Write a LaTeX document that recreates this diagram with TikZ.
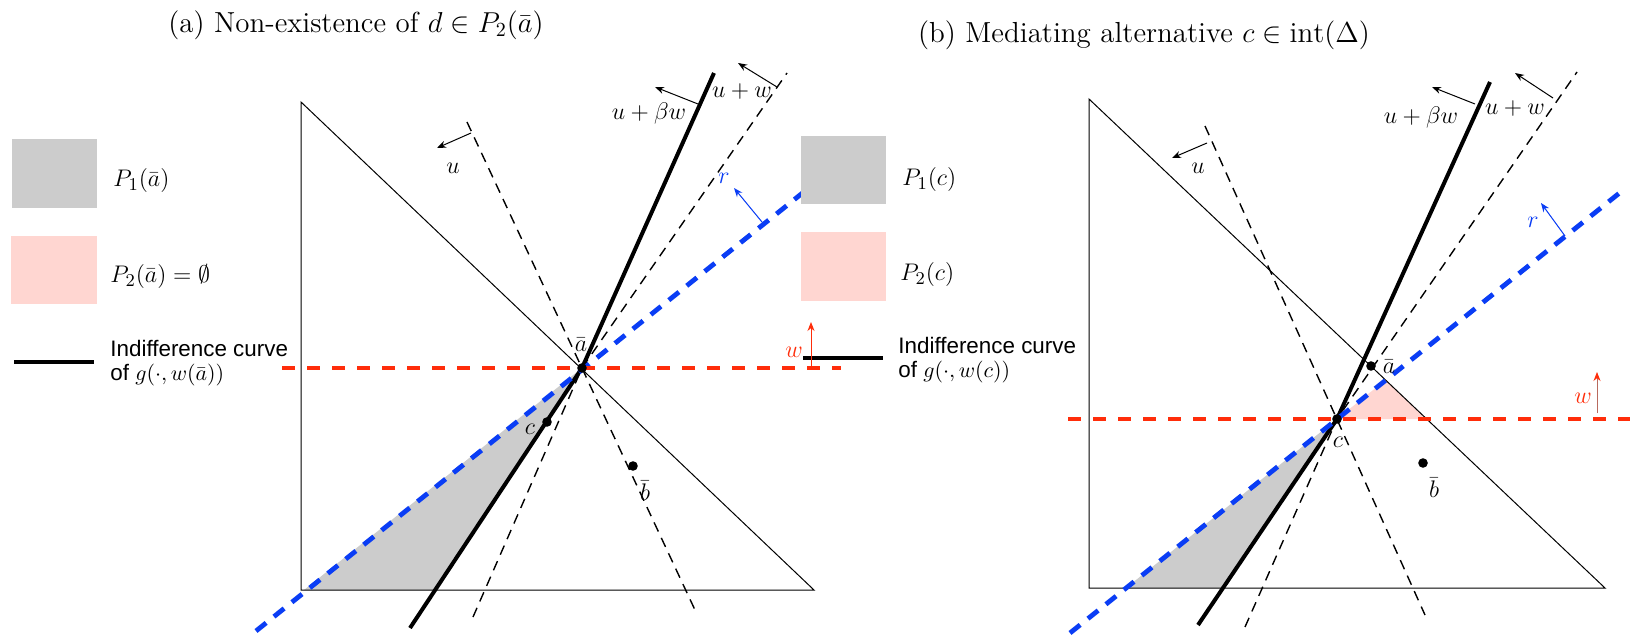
\documentclass[tikz,border=0pt]{standalone}
\usepackage{fontspec}
\newfontfamily\legendfont{Liberation Sans}
\usetikzlibrary{arrows.meta}
\definecolor{greyfill}{HTML}{CCCCCC}
\definecolor{pinkfill}{HTML}{FFD6D1}
\definecolor{rblue}{HTML}{0A3DF5}
\definecolor{rred}{HTML}{FF2D0A}
\definecolor{rbrown}{HTML}{B86A5E}
\tikzset{
  tri/.style={draw=black, line width=0.5pt},
  icurve/.style={draw=black, line width=2pt, line join=miter},
  dline/.style={draw=black, line width=0.7pt, dash pattern=on 5pt off 3.5pt},
  bluedash/.style={draw=rblue, line width=2.4pt, dash pattern=on 6.5pt off 5pt},
  reddash/.style={draw=rred, line width=2pt, dash pattern=on 6.5pt off 6pt},
  dirarrow/.style={-{Stealth[length=4.5pt,width=3.5pt]}, line width=0.5pt},
  lbl/.style={font=\fontsize{12.5}{14}\selectfont, inner sep=0pt},
  legtext/.style={font=\legendfont\fontsize{11.2}{13}\selectfont, anchor=west, inner sep=0pt},
  legmath/.style={font=\fontsize{13}{15}\selectfont, anchor=west, inner sep=0pt},
  ttl/.style={font=\fontsize{14.5}{17}\selectfont, inner sep=0pt}
}
\begin{document}
\begin{tikzpicture}[x=0.5pt,y=-0.5pt]
\useasboundingbox (0,0) rectangle (1639,636);
\fill[white] (0,0) rectangle (1639,636);

% ---------------- left panel ----------------
\node[ttl] (titleA) at (356,25) {(a) Non-existence of $d\in P_2(\bar a)$};

\coordinate (aA) at (582,368);
\coordinate (cA) at (547,422);
\coordinate (bA) at (633,466);
\coordinate (TLa) at (301,102);
\coordinate (BLa) at (301,590);
\coordinate (BRa) at (814,590);

\fill[greyfill] (304,590) -- (aA) -- (435,590) -- cycle;
\draw[tri] (TLa) -- (BLa) -- (BRa) -- cycle;

\draw[dline] (467,122) -- (695,610);
\draw[dline] (473,617) -- (aA) -- (787,73);
\draw[icurve] (410,628) -- (aA) -- (714,73);
\draw[bluedash] (256,631) -- (805,191);
\draw[reddash] (282,368) -- (841,368);

\draw[dirarrow] (471,133) -- (437,148);
\draw[dirarrow] (698,104) -- (655,87);
\draw[dirarrow] (777,87) -- (738,63);
\draw[dirarrow, draw=rblue, fill=rblue] (762,222) -- (734,188);

\fill (aA) circle[radius=2.4pt];
\fill (cA) circle[radius=2.4pt];
\fill (bA) circle[radius=2.4pt];
\node[lbl] (labaA) at (581,345) {$\bar a$};
\node[lbl] (labcA) at (530,429) {$c$};
\node[lbl] (labbA) at (645,491) {$\bar b$};
\node[lbl] (labuA) at (453,168) {$u$};
\node[lbl] (labubA) at (649,114) {$u+\beta w$};
\node[lbl] (labuwA) at (742,92) {$u+w$};
\node[lbl, text=rblue] (labrA) at (724,178) {$r$};

% left legend
\fill[greyfill] (12,139) rectangle (97,208);
\fill[pinkfill] (11,236) rectangle (97,304);
\draw[line width=1.7pt] (14,362) -- (94,362);
\node[legmath] (legP1a) at (113,181) {$P_1(\bar a)$};
\node[legmath] (legP2a) at (110,277) {$P_2(\bar a)=\emptyset$};
\node[legtext] (legIa) at (110,348) {Indifference curve};
\node[legtext] (legIIa) at (110,375) {of $g(\cdot,w(\bar a))$};

% ---------------- right panel ----------------
\node[ttl] (titleB) at (1144,35) {(b) Mediating alternative $c\in \mathrm{int}(\Delta)$};

\coordinate (cC) at (1337,419);
\coordinate (aC) at (1371,366);
\coordinate (bC) at (1423,463);
\coordinate (TLb) at (1089,99);
\coordinate (BLb) at (1089,588);
\coordinate (BRb) at (1605,588);

\fill[greyfill] (1126,588) -- (cC) -- (1223,588) -- cycle;
\fill[pinkfill] (cC) -- (1385.6,380) -- (1426.5,419) -- cycle;
\draw[tri] (TLb) -- (BLb) -- (BRb) -- cycle;

\draw[dline] (1205,126) -- (1425,615);
\draw[dline] (1245,627) -- (cC) -- (1577,72);
\draw[icurve] (1198,625) -- (cC) -- (1490,82);
\draw[bluedash] (1070,633) -- (1622,191);
\draw[reddash] (1068,419) -- (1630,419);

\draw[dirarrow] (1207,143) -- (1172,158);
\draw[dirarrow] (1475,104) -- (1432,87);
\draw[dirarrow] (1553,98) -- (1515,73);
\draw[dirarrow, draw=rblue, fill=rblue] (1565,236) -- (1541,203);
\draw[dirarrow, draw=rbrown, -{Stealth[length=4.5pt,width=3.5pt,color=rred]}] (1597,413) -- (1597,372);

\fill (cC) circle[radius=2.4pt];
\fill (aC) circle[radius=2.4pt];
\fill (bC) circle[radius=2.4pt];
\node[lbl] (labaB) at (1389,367) {$\bar a$};
\node[lbl] (labcB) at (1338,442) {$c$};
\node[lbl] (labbB) at (1434,488) {$\bar b$};
\node[lbl] (labuB) at (1198,168) {$u$};
\node[lbl] (labubB) at (1421,118) {$u+\beta w$};
\node[lbl] (labuwB) at (1515,109) {$u+w$};
\node[lbl, text=rblue] (labrB) at (1533,222) {$r$};
\node[lbl, text=rred] (labwB) at (1583,398) {$w$};

% right legend
\fill[greyfill] (801,136) rectangle (886,204);
\fill[pinkfill] (801,232) rectangle (886,301);
\draw[line width=1.7pt] (803,358) -- (883,358);
\draw[dirarrow, draw=rred, fill=rred] (811,366) -- (811,322);
\node[lbl, text=rred] (labwL) at (794,352) {$w$};
\node[legmath] (legP1b) at (902,180) {$P_1(c)$};
\node[legmath] (legP2b) at (900,275) {$P_2(c)$};
\node[legtext] (legIb) at (898,345) {Indifference curve};
\node[legtext] (legIIb) at (898,372) {of $g(\cdot,w(c))$};
\end{tikzpicture}
\end{document}
